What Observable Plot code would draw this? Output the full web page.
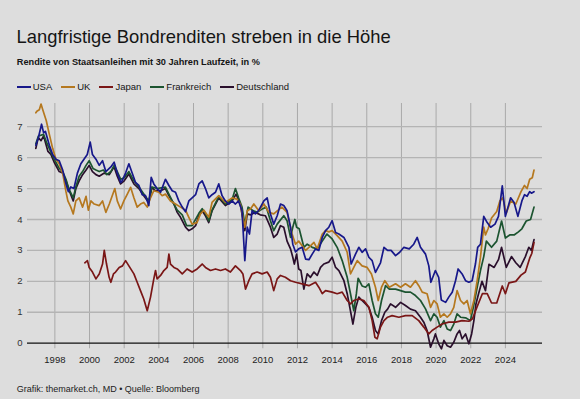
<!DOCTYPE html>
<html>
<head>
<meta charset="utf-8">
<script src="https://cdn.jsdelivr.net/npm/d3@7"></script>
<script src="https://cdn.jsdelivr.net/npm/@observablehq/plot@0.6"></script>
<style>
  html, body { margin: 0; padding: 0; background: #dddddd; }
  body { width: 580px; height: 399px; position: relative; overflow: hidden; font-family: "Liberation Sans", Arial, Helvetica, sans-serif; color: #111; }
  .abs { position: absolute; white-space: nowrap; }
  #title { left: 16.5px; top: 27.5px; font-size: 18.4px; line-height: 18.4px; color: #151515; }
  #subtitle { left: 16.8px; top: 58.4px; font-size: 9.2px; line-height: 9.2px; font-weight: 700; color: #151515; }
  #legend { left: 16.7px; top: 82.4px; font-size: 9.5px; line-height: 9.5px; color: #151515; display: flex; }
  .item { display: flex; align-items: center; margin-right: 9px; }
  .sw { width: 14px; height: 2px; margin-right: 2px; }
  #chart { left: 0; top: 100px; }
  #caption { left: 16.7px; top: 384.7px; font-size: 9px; line-height: 9px; color: #222; }
</style>
</head>
<body>
<div id="title" class="abs">Langfristige Bondrenditen streben in die Höhe</div>
<div id="subtitle" class="abs">Rendite von Staatsanleihen mit 30 Jahren Laufzeit, in %</div>
<div id="legend" class="abs"></div>
<div id="chart" class="abs"></div>
<div id="caption" class="abs">Grafik: themarket.ch, MD • Quelle: Bloomberg</div>
<script>
// ---- Data (decimal year, yield in %) ----
const seriesNames = ["USA", "UK", "Japan", "Frankreich", "Deutschland"];
const seriesColors = ["#17188a", "#b5781f", "#7a1616", "#1c5430", "#2a0f2c"];
const yTicks = [0, 1, 2, 3, 4, 5, 6, 7];
const xTickYears = [1998, 2000, 2002, 2004, 2006, 2008, 2010, 2012, 2014, 2016, 2018, 2020, 2022, 2024];

const usa = [[1996.9,6.4],[1997.05,6.65],[1997.23,7.08],[1997.35,6.8],[1997.45,6.85],[1997.68,6.4],[1997.87,6.1],[1998.06,5.95],[1998.25,5.9],[1998.45,5.6],[1998.64,5.15],[1998.78,4.9],[1998.92,5.05],[1999.1,5.0],[1999.3,5.5],[1999.5,5.8],[1999.68,5.95],[1999.87,6.1],[2000.04,6.5],[2000.17,6.1],[2000.37,5.95],[2000.56,5.75],[2000.75,5.9],[2000.94,5.55],[2001.23,5.7],[2001.42,5.85],[2001.6,5.5],[2001.8,5.2],[2001.88,5.25],[2002.08,5.5],[2002.27,5.8],[2002.46,5.5],[2002.65,5.2],[2002.85,5.1],[2003.04,4.8],[2003.23,4.77],[2003.42,4.45],[2003.56,5.36],[2003.71,5.15],[2003.9,5.0],[2004.1,4.88],[2004.38,5.3],[2004.58,5.1],[2004.77,4.93],[2004.96,4.88],[2005.15,4.6],[2005.35,4.4],[2005.54,4.25],[2005.73,4.6],[2005.92,4.7],[2006.12,4.8],[2006.31,5.15],[2006.5,5.25],[2006.69,5.0],[2006.88,4.7],[2007.07,4.8],[2007.27,4.88],[2007.46,5.15],[2007.65,4.77],[2007.84,4.6],[2008.04,4.5],[2008.23,4.6],[2008.42,4.5],[2008.6,4.6],[2008.8,4.28],[2008.96,2.67],[2009.1,3.75],[2009.23,3.53],[2009.38,4.28],[2009.57,4.18],[2009.77,4.3],[2010.06,4.6],[2010.25,4.7],[2010.44,4.18],[2010.63,3.85],[2010.83,4.12],[2011.02,4.5],[2011.21,4.45],[2011.4,4.28],[2011.6,3.75],[2011.73,3.2],[2011.89,2.95],[2012.07,3.05],[2012.27,3.1],[2012.47,2.72],[2012.66,2.7],[2012.85,2.88],[2013.04,3.05],[2013.23,3.0],[2013.43,3.42],[2013.62,3.64],[2013.81,3.75],[2014.0,3.96],[2014.2,3.58],[2014.39,3.53],[2014.68,3.42],[2014.97,3.1],[2015.1,2.56],[2015.35,2.88],[2015.54,3.1],[2015.73,2.94],[2015.93,3.05],[2016.12,2.78],[2016.31,2.67],[2016.5,2.29],[2016.79,2.6],[2016.99,3.1],[2017.2,3.0],[2017.4,3.0],[2017.66,2.83],[2017.9,2.94],[2018.14,3.1],[2018.45,3.05],[2018.71,3.2],[2018.91,3.42],[2019.1,3.1],[2019.39,2.88],[2019.58,2.5],[2019.7,1.97],[2019.96,2.35],[2020.15,2.13],[2020.3,1.4],[2020.55,1.32],[2020.73,1.49],[2020.93,1.65],[2021.12,2.02],[2021.27,2.4],[2021.5,2.24],[2021.7,2.02],[2021.89,1.97],[2022.08,2.02],[2022.27,2.56],[2022.4,3.1],[2022.56,3.2],[2022.75,4.1],[2022.95,3.9],[2023.15,3.75],[2023.4,3.85],[2023.6,4.1],[2023.82,5.09],[2024.0,4.1],[2024.15,4.4],[2024.3,4.7],[2024.5,4.55],[2024.72,4.1],[2024.95,4.6],[2025.1,4.8],[2025.25,4.75],[2025.4,4.9],[2025.5,4.85],[2025.65,4.9]];

const uk = [[1996.9,7.45],[1996.96,7.5],[1997.1,7.55],[1997.2,7.73],[1997.3,7.55],[1997.5,7.2],[1997.68,6.75],[1997.87,6.3],[1998.06,5.95],[1998.25,5.8],[1998.45,5.5],[1998.64,4.9],[1998.75,4.6],[1998.92,4.4],[1999.06,4.18],[1999.21,4.6],[1999.4,4.7],[1999.6,4.4],[1999.8,4.75],[1999.93,4.3],[2000.08,4.6],[2000.27,4.5],[2000.56,4.45],[2000.75,4.6],[2000.94,4.23],[2001.14,4.5],[2001.33,4.8],[2001.46,5.0],[2001.6,4.6],[2001.79,4.34],[2001.98,4.6],[2002.18,4.82],[2002.37,5.04],[2002.56,4.7],[2002.75,4.4],[2002.94,4.5],[2003.13,4.55],[2003.33,4.4],[2003.52,4.7],[2003.71,4.93],[2004.0,4.88],[2004.19,4.77],[2004.38,4.82],[2004.67,4.6],[2004.96,4.5],[2005.25,4.4],[2005.54,4.3],[2005.73,4.07],[2005.92,3.85],[2006.2,3.9],[2006.4,4.18],[2006.6,4.3],[2006.88,4.07],[2007.07,4.55],[2007.46,4.77],[2007.84,4.55],[2008.23,4.7],[2008.5,4.66],[2008.7,4.5],[2008.96,3.75],[2009.1,4.28],[2009.3,4.35],[2009.48,4.5],[2009.77,4.28],[2010.06,4.5],[2010.35,4.23],[2010.63,4.18],[2010.83,4.28],[2011.1,4.4],[2011.4,4.23],[2011.69,3.53],[2011.89,3.2],[2012.07,3.3],[2012.27,3.15],[2012.47,3.0],[2012.66,3.1],[2012.95,3.26],[2013.14,3.05],[2013.43,3.53],[2013.62,3.64],[2013.81,3.6],[2014.0,3.64],[2014.29,3.48],[2014.58,3.3],[2014.87,2.94],[2015.06,2.24],[2015.25,2.45],[2015.45,2.67],[2015.73,2.5],[2016.02,2.45],[2016.27,2.24],[2016.5,1.81],[2016.66,1.38],[2016.85,1.81],[2017.04,2.02],[2017.3,1.81],[2017.66,1.92],[2017.95,1.81],[2018.23,1.92],[2018.52,1.81],[2018.81,2.02],[2019.0,1.86],[2019.2,1.65],[2019.48,1.6],[2019.68,1.16],[2019.87,1.38],[2020.06,1.27],[2020.25,0.84],[2020.45,0.95],[2020.64,0.84],[2020.83,0.95],[2021.02,1.16],[2021.21,1.7],[2021.41,1.38],[2021.6,1.27],[2021.79,1.38],[2021.98,0.95],[2022.18,1.38],[2022.37,2.02],[2022.56,2.78],[2022.75,3.75],[2022.85,3.5],[2023.0,3.7],[2023.2,4.05],[2023.5,4.26],[2023.68,4.6],[2023.85,4.7],[2024.05,4.2],[2024.3,4.6],[2024.6,4.5],[2024.9,4.9],[2025.1,5.1],[2025.25,5.0],[2025.4,5.3],[2025.55,5.35],[2025.65,5.6]];

const japan = [[1999.73,2.6],[1999.88,2.67],[1999.98,2.45],[2000.17,2.3],[2000.37,2.08],[2000.56,2.24],[2000.75,2.56],[2000.85,3.0],[2000.98,2.56],[2001.13,2.13],[2001.23,1.97],[2001.38,2.24],[2001.5,2.3],[2001.71,2.45],[2001.9,2.5],[2002.08,2.67],[2002.27,2.5],[2002.56,2.24],[2002.75,1.97],[2002.94,1.7],[2003.13,1.43],[2003.33,1.05],[2003.52,1.49],[2003.71,2.08],[2003.81,2.35],[2003.9,2.08],[2004.1,2.19],[2004.29,2.35],[2004.48,2.45],[2004.58,2.88],[2004.67,2.56],[2004.87,2.45],[2005.06,2.4],[2005.35,2.24],[2005.63,2.4],[2005.92,2.3],[2006.21,2.4],[2006.5,2.56],[2006.69,2.45],[2006.98,2.35],[2007.27,2.4],[2007.56,2.35],[2007.84,2.4],[2008.13,2.3],[2008.42,2.5],[2008.71,2.35],[2008.85,2.24],[2009.0,1.75],[2009.19,2.02],[2009.38,2.24],[2009.67,2.3],[2009.96,2.24],[2010.25,2.3],[2010.44,2.13],[2010.63,1.7],[2010.83,2.08],[2011.02,2.19],[2011.3,2.13],[2011.6,2.02],[2011.89,1.97],[2012.27,1.92],[2012.66,1.86],[2013.04,1.97],[2013.23,1.81],[2013.43,1.6],[2013.62,1.7],[2014.0,1.65],[2014.29,1.6],[2014.58,1.65],[2014.87,1.38],[2015.06,1.27],[2015.25,1.38],[2015.54,1.43],[2015.83,1.38],[2016.12,1.16],[2016.31,0.73],[2016.47,0.19],[2016.6,0.14],[2016.79,0.52],[2016.99,0.73],[2017.2,0.84],[2017.46,0.89],[2017.85,0.84],[2018.23,0.89],[2018.62,0.89],[2019.0,0.73],[2019.29,0.52],[2019.58,0.3],[2019.77,0.41],[2020.06,0.52],[2020.35,0.62],[2020.73,0.68],[2021.12,0.68],[2021.5,0.73],[2021.89,0.71],[2022.1,0.79],[2022.38,1.2],[2022.67,1.6],[2022.95,1.6],[2023.2,1.3],[2023.5,1.3],[2023.82,1.85],[2024.0,1.6],[2024.2,1.95],[2024.6,2.0],[2024.9,2.2],[2025.15,2.3],[2025.4,2.75],[2025.52,2.9],[2025.65,3.25]];

const frankreich = [[1996.9,6.45],[1997.05,6.7],[1997.35,6.75],[1997.55,6.45],[1997.75,6.2],[1997.96,5.95],[1998.25,5.65],[1998.45,5.55],[1998.64,5.3],[1998.8,5.0],[1999.06,4.7],[1999.21,5.05],[1999.4,5.4],[1999.6,5.55],[1999.8,5.75],[1999.98,5.9],[2000.2,5.65],[2000.37,5.6],[2000.56,5.55],[2000.8,5.6],[2001.0,5.45],[2001.23,5.55],[2001.42,5.75],[2001.6,5.55],[2001.8,5.3],[2002.0,5.35],[2002.27,5.55],[2002.56,5.25],[2002.85,5.05],[2003.1,4.85],[2003.42,4.6],[2003.6,5.05],[2003.9,5.0],[2004.38,5.05],[2004.77,4.6],[2005.06,4.3],[2005.35,4.15],[2005.6,3.8],[2005.92,3.8],[2006.31,4.2],[2006.5,4.35],[2006.69,4.2],[2006.88,3.95],[2007.07,4.3],[2007.46,4.75],[2007.84,4.5],[2008.23,4.65],[2008.42,5.0],[2008.6,4.7],[2008.8,4.4],[2008.96,3.85],[2009.15,4.4],[2009.4,4.3],[2009.67,4.23],[2010.0,4.35],[2010.2,4.4],[2010.44,3.96],[2010.63,3.64],[2010.83,3.85],[2011.21,4.12],[2011.4,3.96],[2011.6,3.42],[2011.73,3.75],[2011.85,4.0],[2011.95,3.75],[2012.1,3.7],[2012.37,3.1],[2012.56,3.2],[2012.85,3.1],[2013.14,3.05],[2013.43,3.3],[2013.7,3.53],[2014.0,3.37],[2014.29,3.1],[2014.58,2.67],[2014.87,2.13],[2015.06,1.6],[2015.25,1.05],[2015.4,1.6],[2015.5,2.1],[2015.73,1.85],[2015.93,1.81],[2016.12,1.92],[2016.31,1.38],[2016.5,0.95],[2016.66,0.84],[2016.85,1.38],[2017.08,1.86],[2017.3,1.75],[2017.66,1.75],[2017.95,1.7],[2018.23,1.65],[2018.52,1.65],[2018.81,1.54],[2019.1,1.38],[2019.39,1.11],[2019.68,0.73],[2019.87,0.95],[2020.06,0.84],[2020.25,0.52],[2020.45,0.73],[2020.64,0.46],[2020.83,0.41],[2021.02,0.62],[2021.21,0.95],[2021.41,0.84],[2021.7,0.82],[2021.98,0.73],[2022.15,1.16],[2022.37,1.81],[2022.56,2.35],[2022.75,2.8],[2022.9,3.3],[2023.2,3.1],[2023.5,3.3],[2023.78,3.95],[2024.0,3.4],[2024.25,3.5],[2024.5,3.5],[2024.75,3.6],[2024.95,3.7],[2025.2,3.95],[2025.45,4.0],[2025.65,4.4]];

const deutschland = [[1996.9,6.3],[1997.04,6.65],[1997.2,6.55],[1997.35,6.7],[1997.5,6.4],[1997.6,6.2],[1997.77,6.1],[1997.96,5.85],[1998.25,5.55],[1998.45,5.5],[1998.64,5.25],[1998.83,4.93],[1999.06,4.6],[1999.21,5.0],[1999.4,5.25],[1999.6,5.45],[1999.8,5.6],[1999.98,5.75],[2000.17,5.55],[2000.37,5.45],[2000.56,5.4],[2000.85,5.5],[2001.14,5.45],[2001.42,5.7],[2001.6,5.4],[2001.79,5.15],[2002.0,5.25],[2002.27,5.47],[2002.56,5.15],[2002.85,5.0],[2003.13,4.77],[2003.42,4.55],[2003.6,5.04],[2003.79,4.93],[2004.1,4.93],[2004.38,5.0],[2004.58,4.77],[2004.87,4.5],[2005.06,4.23],[2005.25,4.07],[2005.54,3.75],[2005.73,3.64],[2005.92,3.7],[2006.12,3.8],[2006.31,4.12],[2006.5,4.28],[2006.69,4.12],[2006.88,3.9],[2007.07,4.28],[2007.46,4.7],[2007.84,4.45],[2008.23,4.6],[2008.46,4.82],[2008.7,4.5],[2008.96,3.64],[2009.1,4.18],[2009.3,4.15],[2009.57,4.23],[2009.85,4.15],[2010.15,4.12],[2010.44,3.75],[2010.63,3.42],[2010.83,3.53],[2011.02,3.8],[2011.21,3.75],[2011.4,3.3],[2011.6,3.05],[2011.73,2.78],[2011.82,2.56],[2011.95,2.88],[2012.07,2.4],[2012.2,2.35],[2012.37,1.75],[2012.56,2.24],[2012.75,2.13],[2012.95,2.3],[2013.14,2.19],[2013.33,2.45],[2013.52,2.56],[2013.8,2.62],[2014.0,2.78],[2014.2,2.45],[2014.39,2.35],[2014.68,2.02],[2014.87,1.6],[2015.02,1.16],[2015.2,0.62],[2015.37,1.16],[2015.54,1.49],[2015.73,1.38],[2015.93,1.27],[2016.12,1.16],[2016.31,0.84],[2016.5,0.41],[2016.66,0.3],[2016.85,0.73],[2017.04,1.0],[2017.2,1.1],[2017.37,1.27],[2017.66,1.16],[2017.95,1.32],[2018.23,1.22],[2018.52,1.1],[2018.81,1.05],[2019.1,0.84],[2019.29,0.68],[2019.48,0.41],[2019.68,-0.13],[2019.87,0.14],[2019.96,0.3],[2020.15,-0.02],[2020.31,-0.18],[2020.45,0.09],[2020.64,-0.08],[2020.83,-0.13],[2021.02,0.03],[2021.21,0.3],[2021.35,0.41],[2021.5,0.14],[2021.7,0.3],[2021.89,-0.02],[2022.05,0.3],[2022.18,0.73],[2022.3,1.27],[2022.45,1.6],[2022.65,2.0],[2022.85,1.7],[2023.05,2.55],[2023.35,2.45],[2023.6,2.7],[2023.78,3.1],[2024.05,2.45],[2024.35,2.8],[2024.6,2.6],[2024.85,2.45],[2025.15,2.8],[2025.35,3.1],[2025.5,3.0],[2025.65,3.35]];

const seriesData = [usa, uk, japan, frankreich, deutschland];

// ---- helpers ----
function toDate(y) {
  const yr = Math.floor(y);
  const s = Date.UTC(yr, 0, 1), e = Date.UTC(yr + 1, 0, 1);
  return new Date(s + (y - yr) * (e - s));
}

const rows = [];
seriesNames.forEach((name, i) => {
  seriesData[i].forEach(([yr, v]) => rows.push({series: name, date: toDate(yr), value: v}));
});

// legend
const legend = document.getElementById("legend");
seriesNames.forEach((n, i) => {
  const it = document.createElement("div");
  it.className = "item";
  it.innerHTML = `<span class="sw" style="background:${seriesColors[i]}"></span><span>${n}</span>`;
  legend.appendChild(it);
});

const xTicks = xTickYears.map(y => toDate(y));
const drawOrder = ["Deutschland", "Frankreich", "Japan", "UK", "USA"];

const chart = Plot.plot({
  width: 580,
  height: 270,
  marginLeft: 27,
  marginRight: 38,
  marginTop: 3,
  marginBottom: 27.3,
  style: {background: "transparent", fontFamily: "'Liberation Sans', Arial, sans-serif", fontSize: "9.5px", color: "#333"},
  x: {type: "utc", domain: [toDate(1996.42), toDate(2026.14)]},
  y: {domain: [0, 7.75]},
  color: {domain: seriesNames, range: seriesColors},
  marks: [
    Plot.ruleX(xTicks, {x: d => d, y1: -0.18, y2: 7.75, stroke: "#a9a9a9", strokeWidth: 1}),
    Plot.ruleY(yTicks.filter(t => t > 0), {stroke: "#b4b4b4", strokeWidth: 1.3}),
    Plot.ruleY([0], {stroke: "#111", strokeWidth: 1.2}),
    ...drawOrder.map(n => Plot.line(rows.filter(r => r.series === n), {
      x: "date", y: "value", stroke: "series", strokeWidth: 1.7, curve: "linear"
    })),
    Plot.axisY(yTicks, {tickSize: 0, tickPadding: 5, label: null, fill: "#333", fontSize: 9.5}),
    Plot.axisX(xTicks, {tickSize: 0, tickPadding: 13, label: null, tickFormat: d => String(d.getUTCFullYear()), fill: "#222", fontSize: 9.5})
  ]
});
document.getElementById("chart").appendChild(chart);
</script>
</body>
</html>
